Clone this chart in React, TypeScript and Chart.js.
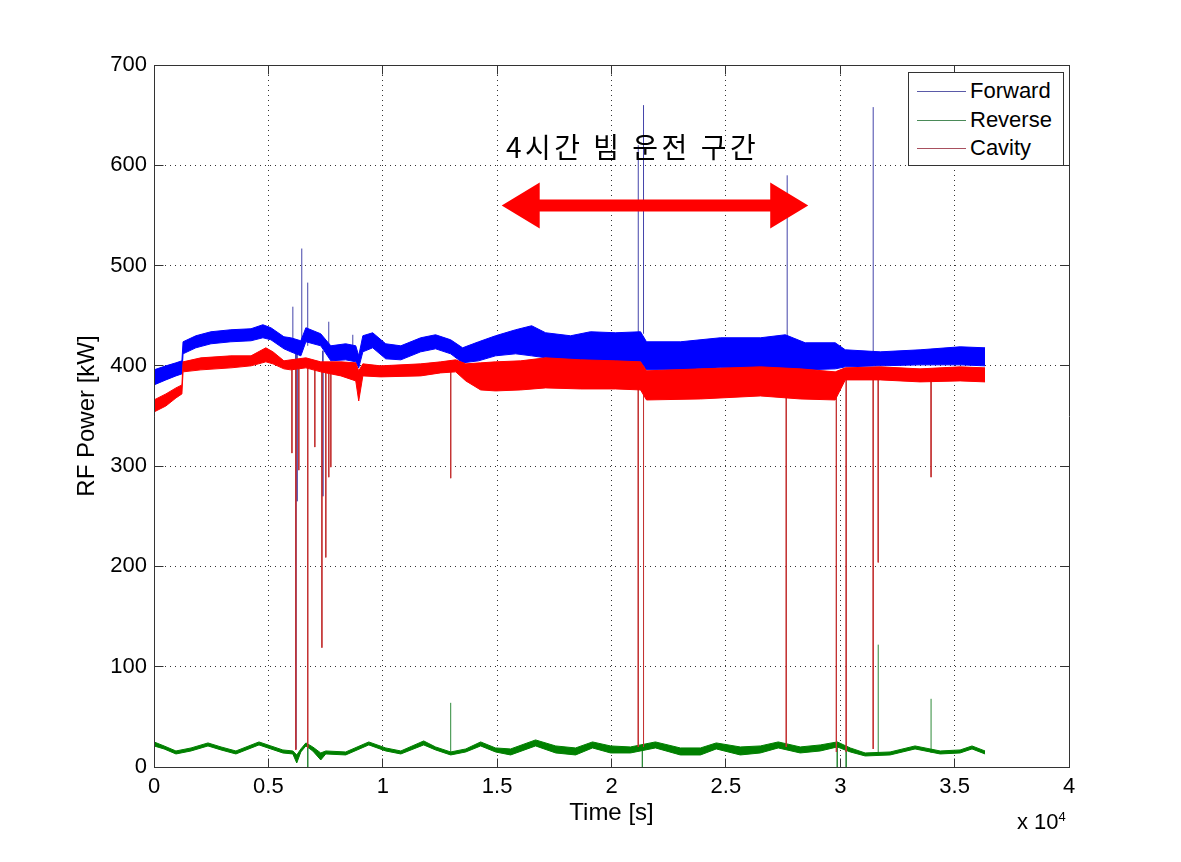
import React, { useEffect, useRef } from "react";
import { Chart, registerables } from "chart.js";

Chart.register(...registerables);

const FONT = "'Liberation Sans', Arial, Helvetica, sans-serif";

// ---- axes ----
const xTickValues = [0, 5000, 10000, 15000, 20000, 25000, 30000, 35000, 40000];
const yTickValues = [0, 100, 200, 300, 400, 500, 600, 700];

// ---- Forward (blue) band: time [s], upper / lower envelope [kW] ----
const fwdTime = [0, 520, 960, 1220, 1270, 1830, 2490, 3360, 4240, 4760, 5110, 5680, 5980, 6420, 6640, 7290, 7730, 8380, 8820, 8950, 9130, 9560, 10130, 10790, 11660, 12310, 12970, 13490, 14190, 14930, 15810, 16510, 17120, 18210, 19080, 20180, 21270, 21530, 23010, 24760, 26510, 27600, 28470, 29780, 30220, 31750, 33490, 35240, 36330];
const fwdHigh = [396, 400, 403, 405, 424, 430, 434, 436, 437, 441, 438, 429, 428, 425, 438, 432, 420, 422, 420, 410, 430, 433, 422, 420, 428, 431, 426, 418, 424, 430, 436, 440, 433, 430, 434, 433, 434, 424, 424, 428, 428, 431, 423, 423, 416, 414, 416, 419, 418];
const fwdLow = [381, 386, 390, 392, 412, 418, 422, 424, 425, 428, 426, 417, 414, 410, 424, 420, 405, 406, 404, 398, 414, 418, 407, 406, 414, 417, 412, 403, 405, 410, 412, 410, 408, 405, 404, 404, 404, 396, 396, 398, 397, 397, 396, 397, 399, 400, 401, 401, 400];

// ---- Cavity (red) band ----
const cavTime = [0, 520, 960, 1220, 1270, 2050, 3360, 4240, 4890, 5200, 5680, 5980, 6640, 7290, 8170, 8820, 8950, 9130, 9910, 11660, 12530, 13190, 13630, 14280, 14930, 16030, 17120, 18650, 20180, 21270, 21530, 23890, 26510, 28250, 29780, 30220, 31750, 33490, 35240, 36330];
const cavHigh = [366, 372, 378, 381, 404, 408, 410, 410, 418, 414, 405, 406, 408, 404, 404, 403, 395, 402, 400, 402, 404, 406, 402, 403, 404, 405, 408, 406, 405, 404, 395, 397, 399, 397, 394, 398, 399, 397, 399, 398];
const cavLow = [354, 360, 368, 372, 394, 396, 398, 400, 404, 402, 397, 396, 398, 394, 390, 385, 365, 390, 389, 390, 393, 394, 385, 376, 375, 376, 378, 377, 377, 376, 366, 367, 370, 367, 366, 386, 386, 384, 385, 384];

// ---- Reverse (green) band ----
const revTime = [0, 440, 960, 1620, 2360, 2930, 3580, 4590, 5110, 5630, 6070, 6240, 6420, 6640, 6940, 7290, 7510, 8380, 9390, 10130, 10790, 11790, 12310, 12970, 13630, 14280, 14930, 15590, 16680, 17560, 18430, 19170, 19960, 20830, 21920, 23010, 23890, 24580, 25630, 26510, 27290, 28250, 29130, 29870, 30440, 31090, 32180, 33270, 34370, 35240, 35760, 36330];
const revHigh = [25, 21, 16, 19, 24, 20, 16, 25, 21, 17, 16, 12, 18, 24, 20, 14, 16, 15, 25, 19, 16, 26, 20, 15, 18, 25, 19, 18, 27, 21, 19, 25, 21, 20, 25, 19, 19, 24, 20, 21, 25, 20, 22, 25, 19, 14, 15, 21, 16, 17, 21, 16];
const revLow = [21, 18, 13, 16, 21, 17, 13, 22, 18, 14, 13, 4, 15, 21, 16, 7, 13, 12, 22, 16, 13, 22, 17, 12, 15, 21, 15, 12, 21, 14, 12, 19, 14, 14, 19, 12, 12, 18, 12, 14, 19, 14, 16, 20, 15, 11, 12, 18, 13, 14, 18, 13];

// ---- spikes: time, value before spike, spike extreme ----
const fwdSpikeTime = [6070, 6200, 6250, 6460, 6720, 7380, 7640, 8690, 21170, 21400, 27680, 31440];
const fwdSpikeFrom = [420, 415, 420, 415, 420, 415, 415, 410, 432, 432, 428, 414];
const fwdSpikeTo = [459, 18, 265, 517, 483, 270, 444, 431, 620, 660, 590, 658];

const cavSpikeTime = [6030, 6200, 6330, 6720, 7030, 7340, 7510, 7640, 7730, 12970, 21170, 21400, 27640, 29830, 30260, 31440, 31660, 33970];
const cavSpikeFrom = [400, 400, 400, 402, 400, 398, 398, 398, 398, 398, 385, 385, 380, 378, 392, 392, 392, 392];
const cavSpikeTo = [313, 17, 296, 19, 319, 119, 209, 289, 299, 288, 20, 20, 20, 15, 15, 18, 204, 289];

const revSpikeTime = [6720, 12970, 21350, 29870, 30260, 31660, 33970];
const revSpikeFrom = [22, 14, 20, 22, 17, 14, 14];
const revSpikeTo = [0, 64, 0, 0, 0, 122, 68];

// ---- annotation arrow (data coordinates) ----
const arrowStart = 15200;
const arrowEnd = 28600;
const arrowLevel = 560;

const legendItems = [
  { label: "Forward", color: "#5a5aa8" },
  { label: "Reverse", color: "#4a8a58" },
  { label: "Cavity", color: "#a8505e" },
];

function band(t: number[], v: number[]) {
  return t.map((x, i) => ({ x, y: v[i] }));
}
function spikes(t: number[], from: number[], to: number[]) {
  const out: { x: number; y: number | null }[] = [];
  t.forEach((x, i) => {
    out.push({ x, y: from[i] });
    out.push({ x, y: to[i] });
    out.push({ x, y: null });
  });
  return out;
}

const framePlugin = {
  id: "frame",
  afterDraw(chart: any) {
    const { ctx, chartArea, scales } = chart;
    const { left, right, top, bottom } = chartArea;
    const x = scales.x;
    const y = scales.y;
    ctx.save();
    // arrow
    const xl = x.getPixelForValue(arrowStart);
    const xr = x.getPixelForValue(arrowEnd);
    const yy = y.getPixelForValue(arrowLevel);
    const headLen = 38;
    const headHalf = 23;
    const shaft = 6;
    ctx.fillStyle = "#ff0000";
    ctx.beginPath();
    ctx.moveTo(xl, yy);
    ctx.lineTo(xl + headLen, yy - headHalf);
    ctx.lineTo(xl + headLen, yy - shaft);
    ctx.lineTo(xr - headLen, yy - shaft);
    ctx.lineTo(xr - headLen, yy - headHalf);
    ctx.lineTo(xr, yy);
    ctx.lineTo(xr - headLen, yy + headHalf);
    ctx.lineTo(xr - headLen, yy + shaft);
    ctx.lineTo(xl + headLen, yy + shaft);
    ctx.lineTo(xl + headLen, yy + headHalf);
    ctx.closePath();
    ctx.fill();

    // box + inner ticks
    ctx.strokeStyle = "#333";
    ctx.lineWidth = 1;
    const L = Math.floor(left) + 0.5;
    const R = Math.floor(right) + 0.5;
    const T = Math.floor(top) + 0.5;
    const B = Math.floor(bottom) + 0.5;
    ctx.beginPath();
    ctx.moveTo(L, T);
    ctx.lineTo(R, T);
    ctx.lineTo(R, B);
    ctx.lineTo(L, B);
    ctx.closePath();
    const tl = 9;
    xTickValues.forEach((v) => {
      const px = Math.floor(x.getPixelForValue(v)) + 0.5;
      ctx.moveTo(px, B);
      ctx.lineTo(px, B - tl);
      ctx.moveTo(px, T);
      ctx.lineTo(px, T + tl);
    });
    yTickValues.forEach((v) => {
      const py = Math.floor(y.getPixelForValue(v)) + 0.5;
      ctx.moveTo(L, py);
      ctx.lineTo(L + tl, py);
      ctx.moveTo(R, py);
      ctx.lineTo(R - tl, py);
    });
    ctx.stroke();
    ctx.restore();
  },
};

export default function App() {
  const ref = useRef<HTMLCanvasElement>(null);

  useEffect(() => {
    const canvas = ref.current;
    if (!canvas) return;
    const lineBase = { pointRadius: 0, tension: 0, borderWidth: 1 };
    const chart = new Chart(canvas, {
      type: "line",
      data: {
        datasets: [
          { label: "Cavity", data: band(cavTime, cavHigh), borderColor: "#ff0000", fill: false, ...lineBase },
          { label: "Cavity low", data: band(cavTime, cavLow), borderColor: "#ff0000", backgroundColor: "#ff0000", fill: "-1", ...lineBase },
          { label: "Cavity spikes", data: spikes(cavSpikeTime, cavSpikeFrom, cavSpikeTo), borderColor: "#c43434", fill: false, spanGaps: false, ...lineBase },
          { label: "Reverse", data: band(revTime, revHigh), borderColor: "#008000", fill: false, ...lineBase },
          { label: "Reverse low", data: band(revTime, revLow), borderColor: "#008000", backgroundColor: "#008000", fill: "-1", ...lineBase },
          { label: "Reverse spikes", data: spikes(revSpikeTime, revSpikeFrom, revSpikeTo), borderColor: "#2e8a3a", fill: false, spanGaps: false, ...lineBase },
          { label: "Forward", data: band(fwdTime, fwdHigh), borderColor: "#0000ff", fill: false, ...lineBase },
          { label: "Forward low", data: band(fwdTime, fwdLow), borderColor: "#0000ff", backgroundColor: "#0000ff", fill: "-1", ...lineBase },
          { label: "Forward spikes", data: spikes(fwdSpikeTime, fwdSpikeFrom, fwdSpikeTo), borderColor: "#4444aa", fill: false, spanGaps: false, ...lineBase },
        ] as any,
      },
      options: {
        responsive: false,
        animation: false,
        events: [],
        layout: { padding: { left: 60, right: 112, top: 65, bottom: 0 } },
        plugins: { legend: { display: false }, tooltip: { enabled: false } },
        scales: {
          x: {
            type: "linear",
            min: 0,
            max: 40000,
            afterBuildTicks: (s: any) => {
              s.ticks = xTickValues.map((value) => ({ value }));
            },
            afterFit: (s: any) => {
              s.height = 95;
              s.paddingLeft = 0;
              s.paddingRight = 0;
            },
            ticks: {
              autoSkip: false,
              maxRotation: 0,
              padding: 7,
              color: "#000",
              font: { family: FONT, size: 22 },
              callback: (v: any) => String(Number(v) / 10000),
            },
            grid: { color: "rgba(0,0,0,0.8)", lineWidth: 1, drawTicks: false },
            border: { display: true, color: "#333", width: 1, dash: [1, 4] },
            title: {
              display: true,
              text: "Time [s]",
              color: "#000",
              font: { family: FONT, size: 24 },
              padding: { top: 0, bottom: 34 },
            },
          },
          y: {
            type: "linear",
            min: 0,
            max: 700,
            afterBuildTicks: (s: any) => {
              s.ticks = yTickValues.map((value) => ({ value }));
            },
            afterFit: (s: any) => {
              s.width = 94;
              s.paddingTop = 0;
              s.paddingBottom = 0;
            },
            ticks: {
              padding: 7,
              color: "#000",
              font: { family: FONT, size: 22 },
            },
            grid: { color: "rgba(0,0,0,0.8)", lineWidth: 1, drawTicks: false },
            border: { display: true, color: "#333", width: 1, dash: [1, 4] },
            title: {
              display: true,
              text: "RF Power [kW]",
              color: "#000",
              font: { family: FONT, size: 24 },
              padding: { top: 13, bottom: 0 },
            },
          },
        },
      } as any,
      plugins: [framePlugin],
    });
    return () => chart.destroy();
  }, []);

  const rowCenters = [90, 119, 147];

  return (
    <div style={{ position: "absolute", left: 0, top: 0, width: 1181, height: 862, background: "#fff", overflow: "hidden" }}>
      <canvas ref={ref} width={1181} height={862} style={{ position: "absolute", left: 0, top: 0 }} />
      <div
        style={{
          position: "absolute",
          left: 506,
          top: 131,
          fontFamily: "'Noto Sans CJK KR', sans-serif",
          fontSize: 28,
          letterSpacing: "3.5px",
          lineHeight: "30px",
          color: "#000",
          whiteSpace: "nowrap",
        }}
      >
        4시간 빔 운전 구간
      </div>
      <div
        style={{
          position: "absolute",
          left: 908,
          top: 72,
          width: 156,
          height: 94,
          boxSizing: "border-box",
          border: "1px solid #333",
          background: "#fff",
        }}
      >
        {legendItems.map((it, i) => (
          <div
            key={it.label}
            style={{
              position: "absolute",
              left: 8,
              top: rowCenters[i] - 72 - 14,
              height: 28,
              display: "flex",
              alignItems: "center",
              whiteSpace: "nowrap",
            }}
          >
            <div style={{ width: 49, height: 1, background: it.color, marginRight: 4 }} />
            <span style={{ fontFamily: FONT, fontSize: 22, color: "#000", lineHeight: "28px" }}>{it.label}</span>
          </div>
        ))}
      </div>
      <div
        style={{
          position: "absolute",
          left: 1017,
          top: 809,
          fontFamily: FONT,
          fontSize: 22,
          lineHeight: "26px",
          color: "#000",
          whiteSpace: "nowrap",
        }}
      >
        x 10<sup style={{ fontSize: 13, verticalAlign: "top", position: "relative", top: -5 }}>4</sup>
      </div>
    </div>
  );
}
